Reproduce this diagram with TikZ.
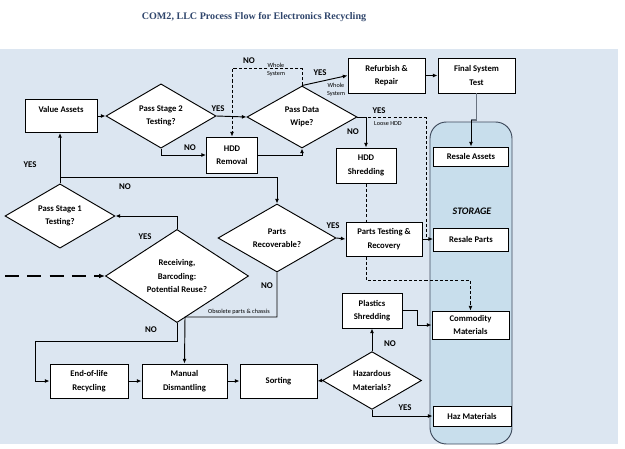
\documentclass[tikz,border=0pt]{standalone}
\usepackage{fontspec}
\setmainfont{Carlito}
\newfontfamily\titlefont{Liberation Serif}
\usetikzlibrary{shapes.geometric,arrows.meta}
\definecolor{panelblue}{RGB}{220,230,241}
\definecolor{storeblue}{RGB}{200,222,236}
\definecolor{storeedge}{RGB}{62,74,92}
\definecolor{titleblue}{RGB}{48,70,108}
\definecolor{jointgray}{RGB}{105,115,128}
\def\pu{0.03cm}
\tikzset{
  sized/.style 2 args={minimum width=#1*\pu, minimum height=#2*\pu},
  flowbox/.style={draw, fill=white, line width=0.8pt, inner sep=1pt, align=center,
    font=\bfseries\fontsize{7.4}{11.5}\selectfont},
  query/.style={diamond, draw, fill=white, line width=0.8pt, inner sep=0pt, align=center,
    font=\bfseries\fontsize{7.4}{11.5}\selectfont},
  flow/.style={line width=0.8pt, -{Latex[length=4pt,width=3.4pt]}},
  loose/.style={line width=0.7pt, dash pattern=on 2.6pt off 1.8pt},
  tag/.style={font=\bfseries\fontsize{7.5}{9}\selectfont},
  note/.style={font=\fontsize{5.3}{6.5}\selectfont, align=center},
}
\begin{document}
\begin{tikzpicture}[x=0.03cm, y=-0.03cm]
    \useasboundingbox (0,0) rectangle (625,448);
    \fill[panelblue] (0,49) rectangle (618,444);
    \node[text=titleblue, font=\titlefont\bfseries\fontsize{8.6}{10}\selectfont] (title) at (254,17)
      {COM2, LLC Process Flow for Electronics Recycling};
    % storage column
    \node[draw=storeedge, fill=storeblue, line width=0.8pt, rounded corners=14pt, sized={82}{322}] (store) at (471,283) {};
    \node[font=\bfseries\itshape\fontsize{8.5}{10}\selectfont] (storelabel) at (472,211) {STORAGE};
    \node[flowbox, sized={75}{19}] (resaleA) at (471,156.5) {Resale Assets};
    \node[flowbox, sized={75}{23}] (resaleP) at (471,239.5) {Resale Parts};
    \node[flowbox, sized={77}{28}] (commodity) at (470.5,325) {Commodity\\Materials};
    \node[flowbox, sized={78}{20}] (haz) at (472,416) {Haz Materials};
    % top row
    \node[flowbox, sized={72}{33}] (value) at (61,116) {Value Assets\\\phantom{X}};
    \node[query, sized={110}{63}] (stage2) at (161,116) {Pass Stage 2\\Testing?};
    \node[flowbox, sized={51}{36}] (hddrem) at (232,155) {HDD\\Removal};
    \node[query, sized={110}{62}] (wipe) at (302,117) {Pass Data\\Wipe?};
    \node[flowbox, sized={77}{35}] (refurb) at (386.5,75.5) {Refurbish \&\\Repair};
    \node[flowbox, sized={77}{35}] (final) at (476.5,75.5) {Final System\\Test};
    \node[flowbox, sized={60}{35}] (hddshred) at (366,165.5) {HDD\\Shredding};
    % middle
    \node[query, sized={110}{60}] (stage1) at (60,216) {Pass Stage 1\\Testing?};
    \node[query, sized={143}{86}] (receive) at (177,276) {Receiving,\\Barcoding:\\Potential Reuse?};
    \node[query, sized={118}{68}] (parts) at (277,238) {Parts\\Recoverable?};
    \node[flowbox, sized={76}{34}] (partstest) at (384,239) {Parts Testing \&\\Recovery};
    \node[flowbox, sized={60}{35}] (plastics) at (372,310.5) {Plastics\\Shredding};
    % bottom row
    \node[flowbox, sized={78}{34}] (eol) at (89,381) {End-of-life\\Recycling};
    \node[flowbox, sized={85}{34}] (manual) at (184.5,381) {Manual\\Dismantling};
    \node[flowbox, sized={77}{34}] (sorting) at (278.5,381) {Sorting};
    \node[query, sized={99}{53}] (hazard) at (372,380.5) {Hazardous\\Materials?};

    \coordinate (split) at (60,177);
    \coordinate (jog) at (471,120);
    \coordinate (loosejoin) at (426,239);
    \coordinate (intake) at (5,276);
    \coordinate (nobend) at (35,341);
    \coordinate (obsolete) at (185,317);

    \draw[flow] (value) -- (stage2);
    \draw[flow] (stage2.east) -- (wipe.west);
    \draw[flow] (stage2.south) |- (hddrem.west);
    \draw[flow] (hddrem.east) -| (wipe.south);
    \draw[flow, loose] (wipe.north) -- ++(0,-17) -| (hddrem.north);
    \draw[flow] (wipe.north) -- (refurb.west);
    \draw[flow] (refurb) -- (final);
    \draw[jointgray, line width=1.4pt] (final.south) |- (jog);
    \draw[flow] (jog) -- (resaleA.north);
    \draw[flow] (wipe.east) -| (hddshred.north);
    \draw[loose] (wipe.east) -| (loosejoin);
    \draw[loose] (hddshred.south) -- (hddshred.south |- partstest.north);
    \draw[flow, loose] (hddshred.south |- partstest.south) -- ++(0,24) -| (commodity.north);
    \draw[flow] (partstest.east) -- (partstest.east -| resaleP.west);
    % stage 1 branches
    \draw[flow] (stage1.north) -- (stage1.north |- value.south);
    \draw[flow] (split) -| (parts.north);
    \draw[flow] (receive.north) |- (stage1.east);
    \draw[flow, line width=1.5pt, dash pattern=on 12pt off 7pt, -{Latex[length=5pt,width=4pt]}] (intake) -- (receive.west);
    \draw[flow] (receive.south) |- (nobend) |- (eol.west);
    \draw[flow] (parts.east) -- (partstest.west);
    \draw[flow] (parts.south) |- (obsolete) -- (manual.north);
    \draw[flow] (eol) -- (manual);
    \draw[flow] (manual) -- (sorting);
    \draw[flow] (hazard.west) -- (sorting.east);
    \draw[flow] (hazard.north) -- (plastics.south);
    \draw[flow] (plastics.east) -- ++(15,0) |- (commodity.west);
    \draw[flow] (hazard.south) |- (haz.west);

    % branch labels
    \node[tag] (yesS2) at (218,109) {YES};
    \node[tag] (noS2) at (190,148) {NO};
    \node[tag] (noWipe) at (249,61) {NO};
    \node[note] (wholeA) at (276,70) {Whole\\System};
    \node[tag] (yesWipe) at (320,73) {YES};
    \node[note] (wholeB) at (336,90) {Whole\\System};
    \node[tag] (yesLoose) at (379,111) {YES};
    \node[tag] (noShred) at (353,132) {NO};
    \node[note] (looseHDD) at (388,124) {Loose HDD};
    \node[tag] (yesS1) at (30,165) {YES};
    \node[tag] (noS1) at (125,187) {NO};
    \node[tag] (yesRec) at (145,237) {YES};
    \node[tag] (noRec) at (151,330) {NO};
    \node[tag] (yesParts) at (333,226) {YES};
    \node[tag] (noParts) at (267,286) {NO};
    \node[note] (obsnote) at (239,312) {Obsolete parts \& chassis};
    \node[tag] (noHaz) at (390,344) {NO};
    \node[tag] (yesHaz) at (405,408) {YES};
\end{tikzpicture}
\end{document}
